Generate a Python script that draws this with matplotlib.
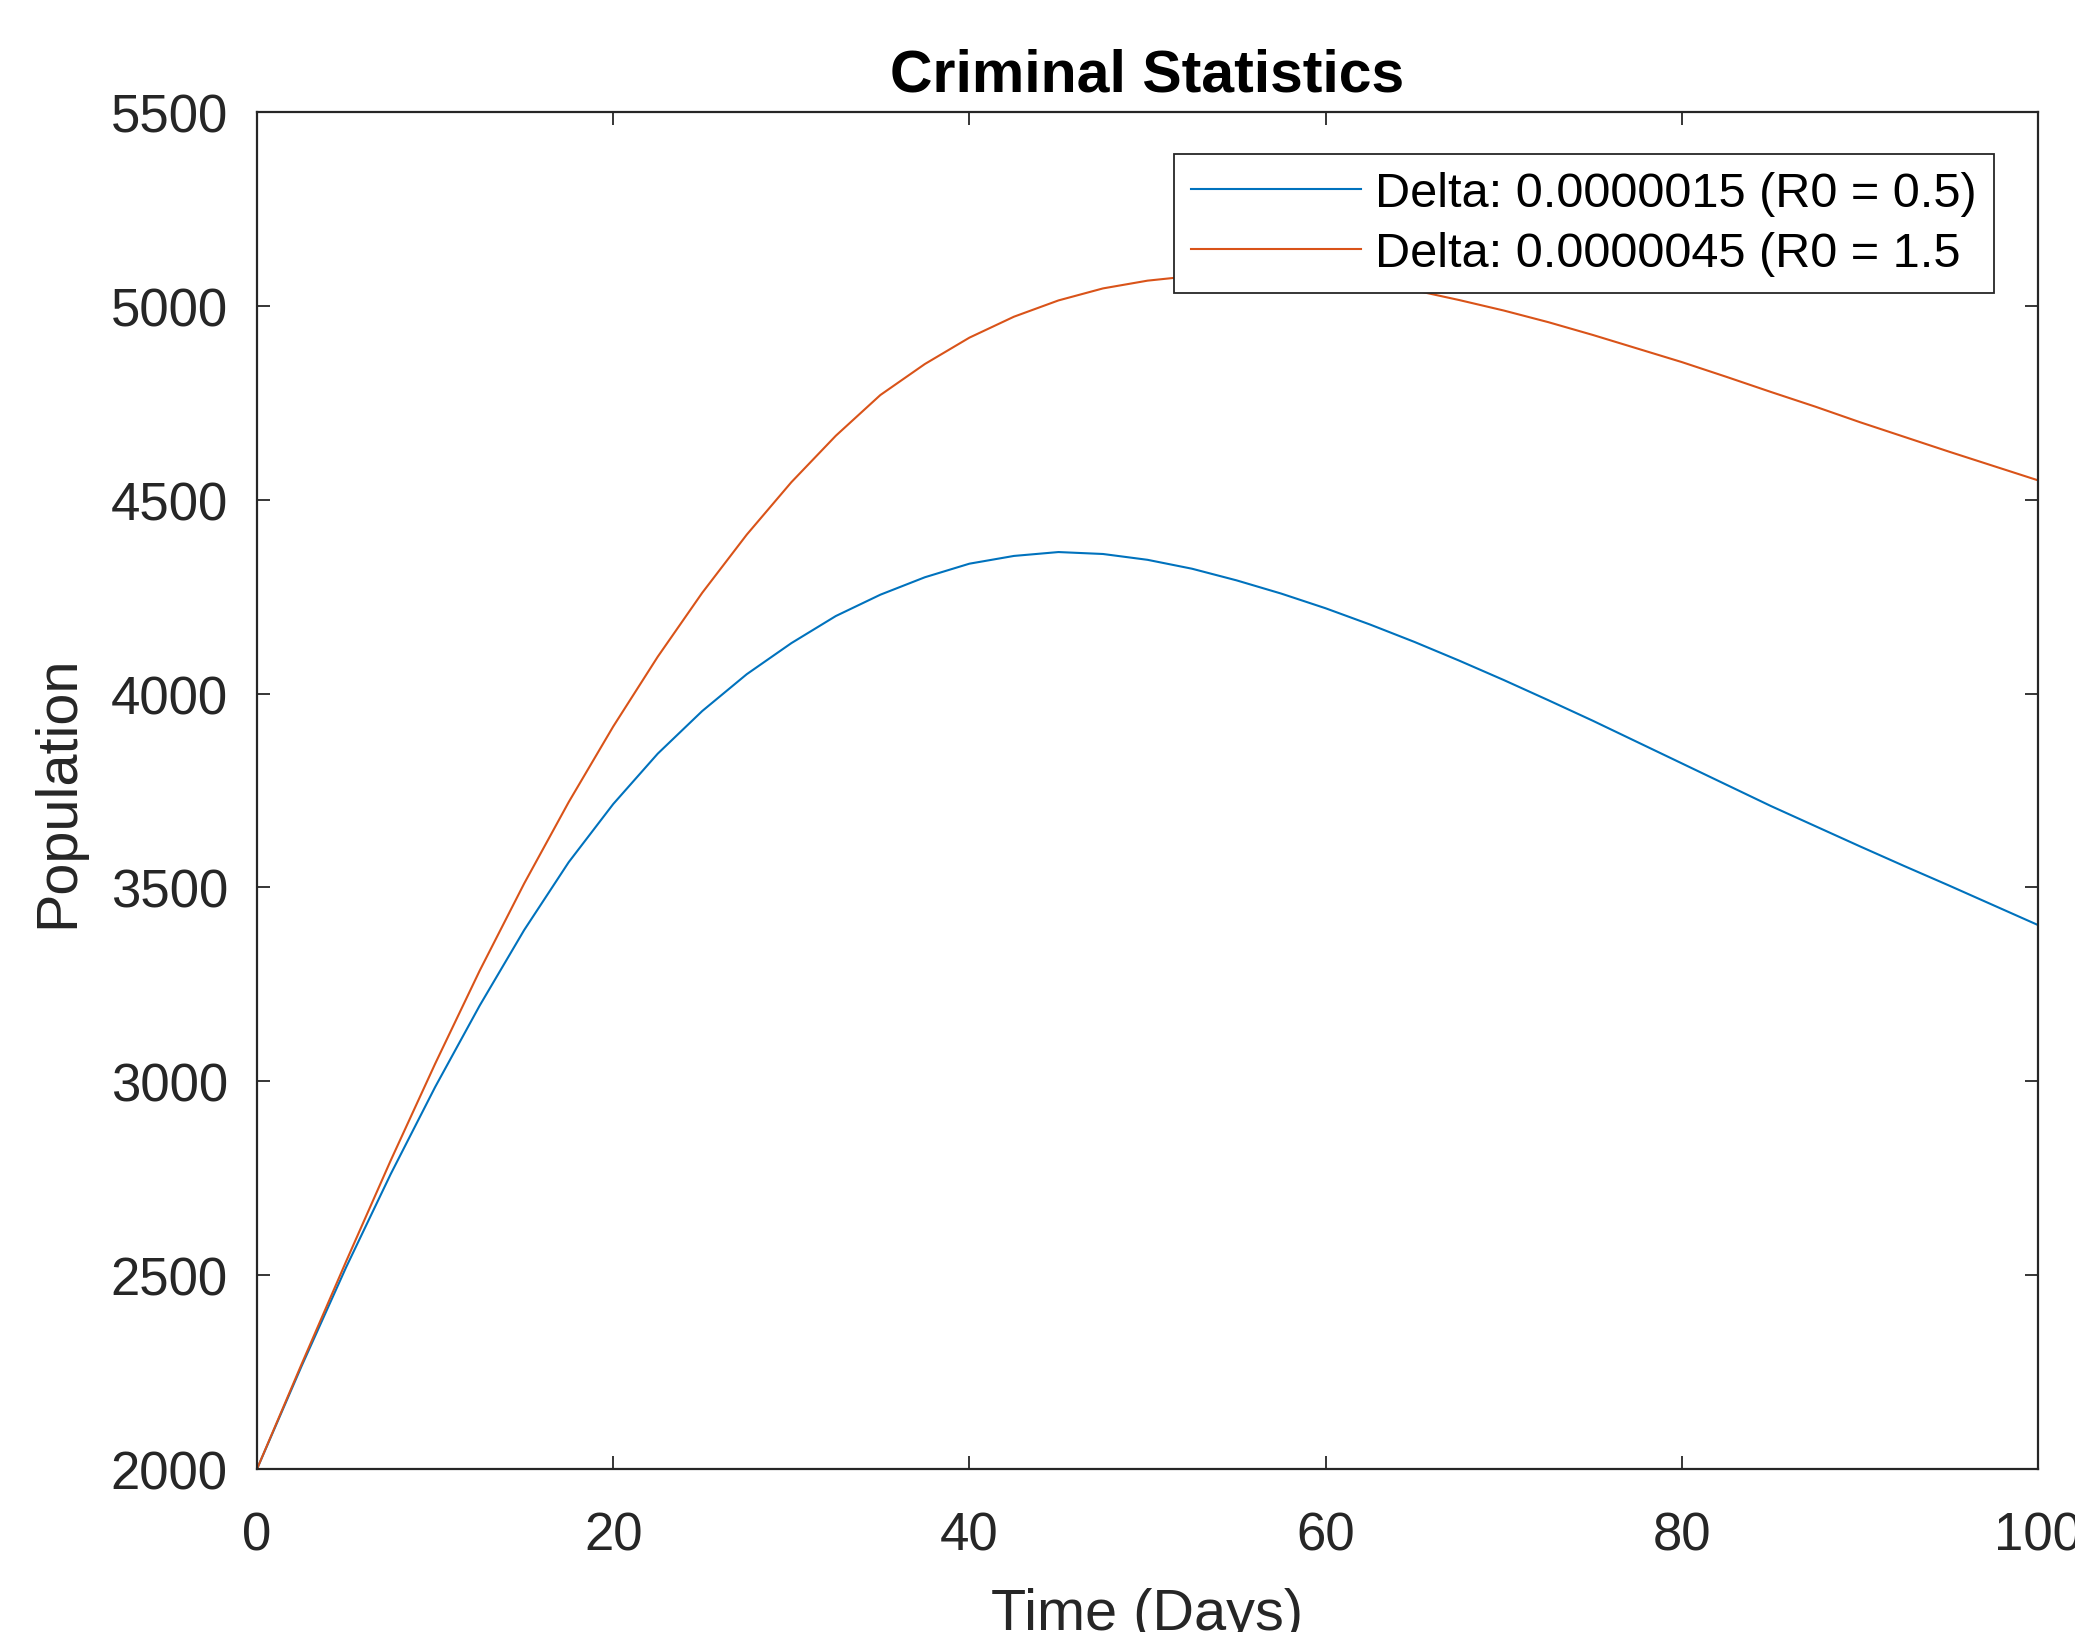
import matplotlib
matplotlib.use('Agg')
import matplotlib.pyplot as plt

plt.rcParams['font.family'] = ['Liberation Sans', 'DejaVu Sans']

# time in days, every 2.5 days
days = [0, 2.5, 5, 7.5, 10, 12.5, 15, 17.5, 20, 22.5, 25, 27.5, 30, 32.5, 35, 37.5,
        40, 42.5, 45, 47.5, 50, 52.5, 55, 57.5, 60, 62.5, 65, 67.5, 70, 72.5, 75,
        77.5, 80, 82.5, 85, 87.5, 90, 92.5, 95, 97.5, 100]
pop_low = [2000, 2265, 2520, 2760, 2985, 3195, 3390, 3565, 3715, 3845, 3955, 4050,
           4130, 4200, 4255, 4300, 4335, 4355, 4365, 4360, 4345, 4322, 4292, 4258,
           4220, 4178, 4133, 4085, 4035, 3983, 3930, 3875, 3820, 3765, 3710, 3658,
           3606, 3555, 3505, 3454, 3403]
pop_high = [2000, 2270, 2535, 2795, 3045, 3285, 3510, 3720, 3915, 4095, 4260, 4410,
            4545, 4665, 4770, 4850, 4918, 4972, 5014, 5045, 5065, 5077, 5082, 5080,
            5072, 5058, 5040, 5015, 4988, 4958, 4925, 4890, 4855, 4817, 4778, 4740,
            4700, 4662, 4624, 4587, 4550]
labels = ['Delta: 0.0000015 (R0 = 0.5)', 'Delta: 0.0000045 (R0 = 1.5']
xticks = [0, 20, 40, 60, 80, 100]
yticks = [2000, 2500, 3000, 3500, 4000, 4500, 5000, 5500]

dark = '#262626'

fig = plt.figure(figsize=(20.75, 16.33), dpi=100)
ax = fig.add_axes([257/2075, 1 - 1470/1633, (2038-257)/2075, (1470-113)/1633])

ax.plot(days, pop_low, color='#0072BD', lw=1.5, label=labels[0])
ax.plot(days, pop_high, color='#D95319', lw=1.5, label=labels[1])

ax.set_xlim(0, 100)
ax.set_ylim(2000, 5500)
ax.set_xticks(xticks)
ax.set_yticks(yticks)

for s in ax.spines.values():
    s.set_color(dark)
    s.set_linewidth(1.6)
ax.tick_params(direction='in', length=9.5, width=1.3, colors=dark,
               labelsize=38, top=True, right=True)
ax.tick_params(axis='x', pad=30)
ax.tick_params(axis='y', pad=21)

ax.set_title('Criminal Statistics', fontsize=42.5, fontweight='bold', pad=15.5)
ax.set_xlabel('Time (Days)', fontsize=41.5, color=dark, labelpad=19)
ax.set_ylabel('Population', fontsize=41.5, color=dark, labelpad=18)

leg = ax.legend(loc='upper right', bbox_to_anchor=(0.9753, 0.969), borderaxespad=0,
                fontsize=35, handlelength=3.5, handletextpad=0.3, labelspacing=0.3,
                borderpad=0.35, fancybox=False, framealpha=1, edgecolor=dark)
leg.get_frame().set_linewidth(1.3)

fig.savefig('out.png', dpi=100)
